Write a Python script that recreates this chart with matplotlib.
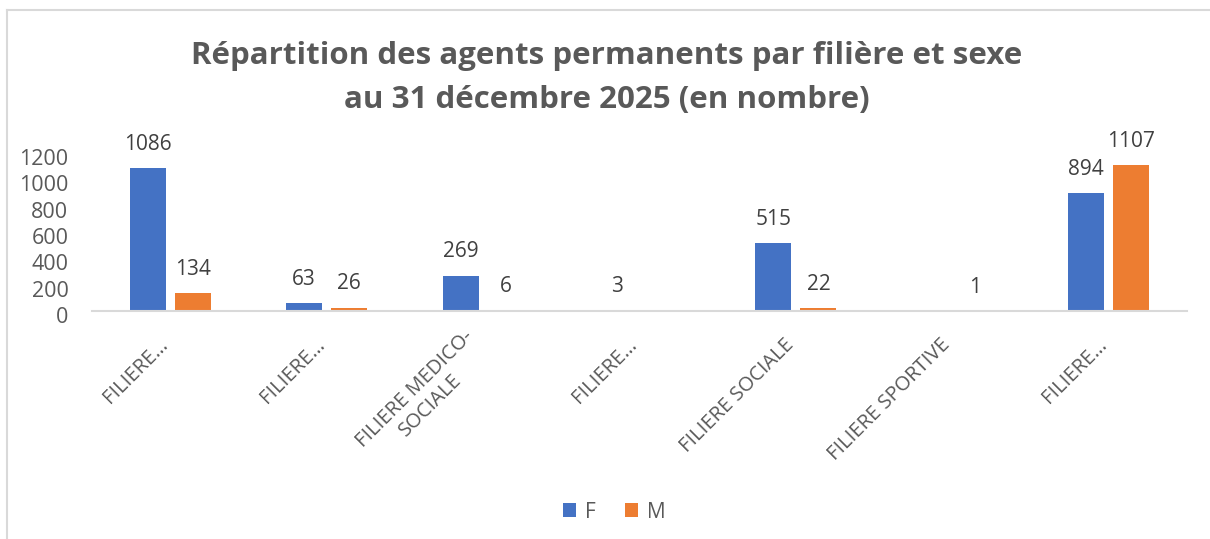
import matplotlib
matplotlib.use("Agg")
import matplotlib.pyplot as plt
import matplotlib.transforms as mtransforms
from matplotlib.lines import Line2D
import numpy as np

categories = ["FILIERE…", "FILIERE…", "FILIERE MEDICO-\nSOCIALE", "FILIERE…",
              "FILIERE SOCIALE", "FILIERE SPORTIVE", "FILIERE…"]
f_values = [1086, 63, 269, 3, 515, None, 894]
m_values = [134, 26, 6, None, 22, 1, 1107]
series_names = ["F", "M"]
y_ticks = [0, 200, 400, 600, 800, 1000, 1200]

BLUE = "#4472C4"
ORANGE = "#ED7D31"
TXT = "#595959"
VAL = "#404040"

plt.rcParams["font.family"] = ["Open Sans", "DejaVu Sans"]

W, H = 1210, 539
fig = plt.figure(figsize=(W / 100, H / 100), dpi=100)
ax = fig.add_axes([92 / W, 228 / H, 1095 / W, 158 / H])

x = np.arange(len(categories))
bw = 0.23
off = 0.144


def draw_series(vals, dx, color, label):
    xs = [xi + dx for xi, v in zip(x, vals) if v is not None]
    vs = [v for v in vals if v is not None]
    bars = ax.bar(xs, vs, width=bw, color=color, label=label)
    for xi, v in zip(xs, vs):
        ax.annotate(str(v), (xi, v), xytext=(0, 17), textcoords="offset points",
                    ha="center", va="center", fontsize=15, color=VAL,
                    annotation_clip=False)
    return bars


draw_series(f_values, -off, BLUE, series_names[0])
draw_series(m_values, off, ORANGE, series_names[1])

ax.set_xlim(-0.5, len(categories) - 0.5)
ax.set_ylim(0, 1200)
ax.set_yticks(y_ticks)
ax.set_yticklabels([str(t) for t in y_ticks])
ax.tick_params(axis="y", length=0, pad=17, labelsize=15.5, labelcolor=TXT)
ax.set_xticks(x)
ax.set_xticklabels(categories, rotation=45, ha="right", va="center",
                   rotation_mode="anchor", multialignment="center")
ax.tick_params(axis="x", length=0, pad=22, labelsize=14.5, labelcolor=TXT)

shift = mtransforms.ScaledTranslation(0, -4 / 100, fig.dpi_scale_trans)
for lab in ax.get_yticklabels():
    lab.set_transform(lab.get_transform() + shift)
xshift = mtransforms.ScaledTranslation(-5 / 100, 0, fig.dpi_scale_trans)
for lab in ax.get_xticklabels():
    lab.set_transform(lab.get_transform() + xshift)

for s in ["top", "right", "left"]:
    ax.spines[s].set_visible(False)
ax.spines["bottom"].set_color("#D9D9D9")
ax.spines["bottom"].set_linewidth(1.5)

fig.text(607 / W, 1 - 56 / H, "Répartition des agents permanents par filière et sexe",
         ha="center", va="center", fontsize=22.5, fontweight="bold", color=TXT)
fig.text(607 / W, 1 - 100 / H, "au 31 décembre 2025 (en nombre)",
         ha="center", va="center", fontsize=22.5, fontweight="bold", color=TXT)

fig.legend(loc="center", bbox_to_anchor=(614 / W, 1 - 512 / H), ncol=2,
           frameon=False, fontsize=15, labelcolor=TXT, handlelength=0.65,
           handleheight=0.65, handletextpad=0.4, columnspacing=1.4)

# chart border (left and top only visible)
fig.add_artist(Line2D([7 / W, 7 / W], [0, 1 - 10 / H], transform=fig.transFigure,
                      color="#D9D9D9", lw=1.5))
fig.add_artist(Line2D([7 / W, 1], [1 - 10 / H, 1 - 10 / H], transform=fig.transFigure,
                      color="#D9D9D9", lw=1.5))

fig.savefig("out.png", dpi=100, facecolor="white")
